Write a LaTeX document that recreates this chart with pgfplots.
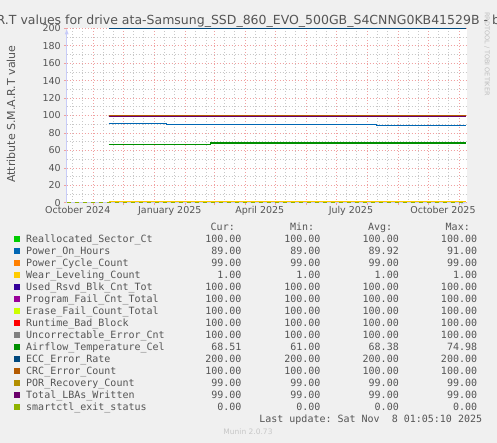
\documentclass[border=0pt]{standalone}
\usepackage{fontspec}
\setmainfont{DejaVu Sans}
\setmonofont{DejaVu Sans Mono}
\usepackage{pgfplots}
\pgfplotsset{compat=1.18}
\usetikzlibrary{arrows.meta}

\definecolor{bggray}{HTML}{F0F0F0}
\definecolor{txt}{HTML}{555555}
\definecolor{majgrid}{HTML}{F0A0A0}
\definecolor{mingrid}{HTML}{C8C8C8}
\definecolor{axisblue}{HTML}{C8CCF8}
\definecolor{cA}{HTML}{00CC00}
\definecolor{cB}{HTML}{0066B3}
\definecolor{cC}{HTML}{FF8000}
\definecolor{cD}{HTML}{FFCC00}
\definecolor{cE}{HTML}{330099}
\definecolor{cF}{HTML}{990099}
\definecolor{cG}{HTML}{CCFF00}
\definecolor{cH}{HTML}{FF0000}
\definecolor{cI}{HTML}{808080}
\definecolor{cJ}{HTML}{008F00}
\definecolor{cK}{HTML}{00487D}
\definecolor{cL}{HTML}{B35A00}
\definecolor{cM}{HTML}{B38F00}
\definecolor{cN}{HTML}{6B006B}
\definecolor{cO}{HTML}{8FB300}

\begin{document}
\begin{tikzpicture}
\useasboundingbox (0,0) rectangle (497pt,443pt);
\clip (0,0) rectangle (497pt,443pt);
\fill[bggray] (0,0) rectangle (497pt,443pt);

% days counted from 1 Oct 2024
\begin{axis}[
    at={(66.7pt,240.3pt)}, anchor=south west,
    scale only axis, width=400.3pt, height=174.4pt,
    xmin=4, xmax=404, ymin=0, ymax=200,
    axis background/.style={fill=white},
    axis lines=left,
    axis line style={draw=axisblue, line width=0.8pt, -{Latex[length=6pt,width=4pt]}},
    xtick={31,61,92,123,151,182,212,243,273,304,335,365,396},
    xticklabels={},
    minor xtick={10,20,41,51,71,81,102,112,133,143,161,171,192,202,222,232,253,263,283,293,314,324,345,355,375,385},
    extra x ticks={15,107,197,288,380},
    extra x tick labels={October 2024,January 2025,April 2025,July 2025,October 2025},
    extra x tick style={grid=none, major tick length=0pt},
    ytick={0,20,...,200},
    minor ytick={10,30,...,190},
    grid=both,
    major grid style={draw=majgrid, line width=0.6pt, dash pattern=on 1pt off 2pt},
    minor grid style={draw=mingrid, line width=0.6pt, dash pattern=on 1pt off 2pt},
    tick style={draw=majgrid, line width=0.6pt},
    tick align=outside, major tick length=2.5pt, minor tick length=0pt,
    ticklabel style={font=\fontsize{9.5}{11}\selectfont, text=txt},
    /pgf/number format/assume math mode=true,
    no markers,
    every axis plot/.append style={line width=1.1pt},
]
\addplot[cA] coordinates {(46,100) (403,100)};
\addplot[cB] coordinates {(46,91) (104,91) (104,90) (314,90) (314,89) (403,89)};
\addplot[cC] coordinates {(46,99) (403,99)};
\addplot[cD] coordinates {(46,1) (403,1)};
\addplot[cE] coordinates {(46,100) (403,100)};
\addplot[cF] coordinates {(46,100) (403,100)};
\addplot[cG] coordinates {(46,100) (403,100)};
\addplot[cH] coordinates {(46,100) (403,100)};
\addplot[cI] coordinates {(46,100) (403,100)};
\addplot[cJ] coordinates {(46,67.2) (148,67.2) (148,68.5) (338,68.5) (338,69.5) (340,69.5) (340,68.5) (403,68.5)};
\addplot[cK] coordinates {(46,200) (403,200)};
\addplot[cL] coordinates {(46,100) (403,100)};
\addplot[cM] coordinates {(46,99) (403,99)};
\addplot[cN] coordinates {(46,99) (403,99)};
\addplot[cO, dash pattern=on 4pt off 4pt] coordinates {(4,0) (403,0)};
\end{axis}

% title and side texts
\node[anchor=base, text=txt, font=\fontsize{12.5}{14}\selectfont] at (248.5pt,418.5pt)
  {S.M.A.R.T values for drive ata-Samsung\_SSD\_860\_EVO\_500GB\_S4CNNG0KB41529B - by year};
\node[rotate=90, text=txt, font=\fontsize{11}{13}\selectfont] at (11pt,329pt) {Attribute S.M.A.R.T value};
\node[rotate=-90, text=black!25, font=\fontsize{6.5}{8}\selectfont] at (487pt,389pt) {RRDTOOL / TOBI OETIKER};

% legend table
\begin{scope}[every node/.style={font=\ttfamily\fontsize{10}{12}\selectfont, text=txt, inner sep=0pt}]
\node[anchor=mid east] at (235pt,215.7pt) {Cur:};
\node[anchor=mid east] at (314.3pt,215.7pt) {Min:};
\node[anchor=mid east] at (392.3pt,215.7pt) {Avg:};
\node[anchor=mid east] at (470pt,215.7pt) {Max:};
\foreach \c/\n/\cur/\mi/\av/\ma [count=\i from 0] in {
  cA/Reallocated\_Sector\_Ct/100.00/100.00/100.00/100.00,
  cB/Power\_On\_Hours/89.00/89.00/89.92/91.00,
  cC/Power\_Cycle\_Count/99.00/99.00/99.00/99.00,
  cD/Wear\_Leveling\_Count/1.00/1.00/1.00/1.00,
  cE/Used\_Rsvd\_Blk\_Cnt\_Tot/100.00/100.00/100.00/100.00,
  cF/Program\_Fail\_Cnt\_Total/100.00/100.00/100.00/100.00,
  cG/Erase\_Fail\_Count\_Total/100.00/100.00/100.00/100.00,
  cH/Runtime\_Bad\_Block/100.00/100.00/100.00/100.00,
  cI/Uncorrectable\_Error\_Cnt/100.00/100.00/100.00/100.00,
  cJ/Airflow\_Temperature\_Cel/68.51/61.00/68.38/74.98,
  cK/ECC\_Error\_Rate/200.00/200.00/200.00/200.00,
  cL/CRC\_Error\_Count/100.00/100.00/100.00/100.00,
  cM/POR\_Recovery\_Count/99.00/99.00/99.00/99.00,
  cN/Total\_LBAs\_Written/99.00/99.00/99.00/99.00,
  cO/smartctl\_exit\_status/0.00/0.00/0.00/0.00} {
  \pgfmathsetmacro\yy{203.7-12*\i}
  \fill[\c] (14pt,\yy pt-3pt) rectangle (20pt,\yy pt+3pt);
  \node[anchor=mid west] at (26pt,\yy pt) {\n};
  \node[anchor=mid east] at (241.7pt,\yy pt) {\cur};
  \node[anchor=mid east] at (320.7pt,\yy pt) {\mi};
  \node[anchor=mid east] at (399pt,\yy pt) {\av};
  \node[anchor=mid east] at (477.3pt,\yy pt) {\ma};
}
\node[anchor=mid east] at (482.3pt,23.7pt) {Last update: Sat Nov\ \ 8 01:05:10 2025};
\end{scope}
\node[text=black!22, font=\fontsize{7.5}{9}\selectfont] at (248pt,11.7pt) {Munin 2.0.73};
\end{tikzpicture}
\end{document}
